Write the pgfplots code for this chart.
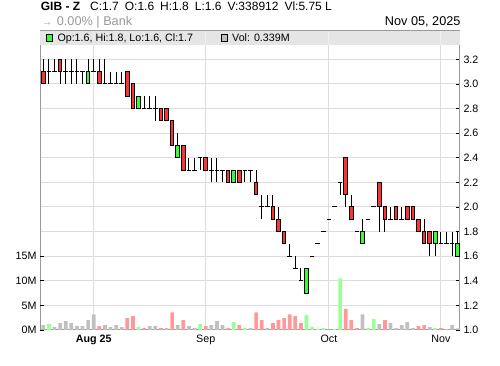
\documentclass[border=0pt]{standalone}
\usepackage{fontspec}
\setmainfont{Liberation Sans}
\usepackage{pgfplots}
\usepackage{pgfplotstable}
\pgfplotsset{compat=1.18}
\definecolor{cred}{HTML}{FF3333}
\definecolor{cgreen}{HTML}{33FF33}
\definecolor{vred}{HTML}{FF9999}
\definecolor{vgreen}{HTML}{99FF99}
\definecolor{vgray}{HTML}{C0C0C0}
\definecolor{gridc}{HTML}{DCDCDC}
\definecolor{bandc}{HTML}{E5E5E5}
\definecolor{bandl}{HTML}{F0F0F0}
\definecolor{framec}{HTML}{999999}
\definecolor{subc}{HTML}{999999}
\pgfplotsset{
  base/.style={at={(40bp,36bp)}, anchor=south west, scale only axis,
    width=420bp, height=299bp, xmin=-0.59, xmax=74.41},
  ebar/.style 2 args={draw=none, mark=none, no markers,
    error bars/y dir=plus, error bars/y explicit,
    error bars/error mark=none,
    error bars/error bar style={draw=#1, line width=#2, solid, line cap=butt}},
}
% daily candles: index, open, high, low, close
\pgfplotstableread{
i O H L C
0 3.1 3.2 3.0 3.0
1 3.1 3.2 3.0 3.1
2 3.1 3.2 3.1 3.1
3 3.2 3.2 3.0 3.1
4 3.1 3.2 3.0 3.1
5 3.1 3.2 3.0 3.1
6 3.1 3.2 3.0 3.1
7 3.1 3.1 3.0 3.1
8 3.0 3.2 3.0 3.1
9 3.1 3.2 3.1 3.1
10 3.1 3.2 3.0 3.0
11 3.0 3.2 3.0 3.0
12 3.0 3.1 3.0 3.0
13 3.0 3.1 3.0 3.0
14 3.0 3.1 3.0 3.0
15 3.1 3.1 2.9 2.9
16 3.0 3.0 2.8 2.8
17 2.8 2.9 2.8 2.9
18 2.8 2.9 2.8 2.8
19 2.8 2.9 2.8 2.8
20 2.8 2.9 2.7 2.8
21 2.8 2.8 2.7 2.7
22 2.8 2.8 2.7 2.7
23 2.7 2.7 2.5 2.5
24 2.4 2.6 2.4 2.5
25 2.5 2.5 2.3 2.3
26 2.3 2.4 2.3 2.3
27 2.3 2.4 2.3 2.3
28 2.4 2.4 2.3 2.4
29 2.4 2.4 2.3 2.3
30 2.3 2.4 2.2 2.3
31 2.3 2.4 2.2 2.3
32 2.3 2.3 2.2 2.3
33 2.3 2.3 2.2 2.2
34 2.2 2.3 2.2 2.3
35 2.3 2.3 2.2 2.2
36 2.3 2.3 2.2 2.3
37 2.3 2.3 2.2 2.3
38 2.2 2.3 2.1 2.1
39 2.0 2.1 1.9 2.0
40 2.0 2.1 2.0 2.0
41 2.0 2.1 1.9 1.9
42 1.9 2.0 1.8 1.8
43 1.8 1.8 1.7 1.7
44 1.6 1.7 1.6 1.6
45 1.5 1.6 1.5 1.5
46 1.4 1.5 1.4 1.4
47 1.3 1.5 1.3 1.5
48 1.6 1.6 1.6 1.6
49 1.7 1.7 1.7 1.7
50 1.8 1.8 1.8 1.8
51 1.9 1.9 1.9 1.9
52 2.0 2.0 2.0 2.0
53 2.2 2.2 2.1 2.2
54 2.4 2.4 2.0 2.1
55 2.0 2.1 1.9 1.9
56 1.8 1.8 1.8 1.8
57 1.7 1.9 1.7 1.8
58 1.9 1.9 1.9 1.9
59 2.0 2.0 2.0 2.0
60 2.2 2.2 1.8 2.0
61 2.0 2.0 1.8 1.9
62 1.9 2.0 1.9 1.9
63 2.0 2.0 1.9 1.9
64 1.9 2.0 1.9 1.9
65 2.0 2.0 1.9 1.9
66 2.0 2.0 1.9 1.9
67 1.9 1.9 1.8 1.8
68 1.8 1.9 1.7 1.7
69 1.8 1.8 1.6 1.7
70 1.7 1.8 1.6 1.8
71 1.7 1.8 1.7 1.7
72 1.7 1.8 1.7 1.7
73 1.7 1.8 1.6 1.7
74 1.6 1.8 1.6 1.7
}\ohlc
\begin{document}
\begin{tikzpicture}
\path[use as bounding box] (0,0) rectangle (500bp,366bp);
% background price axis: grid, frame, right ticks, month labels
\begin{axis}[base, ymin=1, ymax=3.4309,
  axis line style={framec, line width=1bp},
  ymajorgrids, xmajorgrids, major grid style={gridc, line width=1bp},
  ytick={1,1.2,1.4,1.6,1.8,2,2.2,2.4,2.6,2.8,3,3.2},
  yticklabels={1.0,1.2,1.4,1.6,1.8,2.0,2.2,2.4,2.6,2.8,3.0,3.2},
  ytick pos=right, yticklabel pos=right, tick align=inside,
  major tick length=4bp, ytick style={black, line width=0.8bp},
  xtick={9,29,51,71}, xticklabels={{\bfseries Aug 25},Sep,Oct,Nov},
  xtick style={draw=none},
  tick label style={font=\fontsize{10.7bp}{12bp}\selectfont},
  x tick label style={yshift=-1.5bp},
]
\addplot[draw=none] coordinates {(0,1)};
\end{axis}
% volume axis (millions)
\begin{axis}[base, ymin=0, ymax=60.77,
  axis line style={draw=none}, xtick=\empty,
  ytick={0,5,10,15}, yticklabels={0M,5M,10M,15M},
  ytick pos=left, tick align=inside, major tick length=4bp,
  ytick style={black, line width=0.8bp},
  tick label style={font=\fontsize{10.7bp}{12bp}\selectfont},
  ybar, bar width=3.7bp,
]
\addplot[ybar, bar shift=0pt, fill=vgray, draw=none] coordinates {
(0,1.0)(2,0.6)(3,1.4)(4,1.8)(5,1.4)(6,0.8)(7,0.8)(8,2.0)(9,3.2)(11,1.0)(12,0.6)(13,1.0)(14,0.6)(19,0.8)(20,0.8)(22,0.4)(24,1.0)(26,0.8)(27,0.4)(30,1.0)(31,1.8)(32,1.0)(37,0.4)(40,0.4)(57,3.2)(60,1.2)(62,1.4)(63,0.4)(64,1.0)(65,1.6)(66,0.4)(69,0.6)(72,0.2)(73,1.0)(74,0.339)};
\addplot[ybar, bar shift=0pt, fill=vgreen, draw=none] coordinates {
(1,1.2)(17,0.6)(28,1.2)(34,1.6)(36,0.4)(47,3.0)(48,0.6)(49,0.2)(50,0.4)(51,0.1)(52,0.2)(53,10.5)(58,0.4)(59,2.2)(70,0.4)};
\addplot[ybar, bar shift=0pt, fill=vred, draw=none] coordinates {
(10,0.8)(15,2.4)(16,2.8)(18,0.4)(21,0.4)(23,3.6)(25,2.0)(29,0.8)(33,0.4)(35,1.0)(38,3.6)(39,2.0)(41,1.4)(42,2.0)(43,2.4)(44,3.2)(45,2.8)(46,1.4)(54,4.3)(55,2.0)(56,0.4)(61,2.0)(67,0.8)(68,1.0)(71,0.4)};
\end{axis}
% candles
\begin{axis}[base, ymin=1, ymax=3.4309, hide axis]
% wicks: low to high
\addplot[ebar={black}{1bp}]
  table[x=i, y=L, y error expr=\thisrow{H}-\thisrow{L}] {\ohlc};
% box outline (sides)
\addplot[ebar={black}{4.64bp}]
  table[x=i, y expr={min(\thisrow{O},\thisrow{C})}, y error expr={abs(\thisrow{C}-\thisrow{O})}] {\ohlc};
% falling boxes
\addplot[ebar={cred}{2.64bp}]
  table[x=i, y expr={min(\thisrow{O},\thisrow{C})}, y error expr={(\thisrow{O}>\thisrow{C})*(\thisrow{O}-\thisrow{C})}] {\ohlc};
% rising boxes
\addplot[ebar={cgreen}{2.64bp}]
  table[x=i, y expr={min(\thisrow{O},\thisrow{C})}, y error expr={(\thisrow{C}>\thisrow{O})*(\thisrow{C}-\thisrow{O})}] {\ohlc};
% open and close edges
\addplot[only marks, mark=-, mark size=2.32bp, mark options={draw=black, line width=1bp, solid}]
  table[x=i, y=O] {\ohlc};
\addplot[only marks, mark=-, mark size=2.32bp, mark options={draw=black, line width=1bp, solid}]
  table[x=i, y=C] {\ohlc};
\end{axis}
% legend band
\fill[bandc] (40bp,321bp) rectangle (460bp,335bp);
\foreach \xx in {93.7,205.7,328.9,440.9} \draw[bandl, line width=1bp] (\xx bp,321bp) -- (\xx bp,334.5bp);
\draw[framec, line width=1bp] (40bp,335bp) -- (460bp,335bp);
\draw[black, line width=0.7bp, fill=cgreen] (45.9bp,325bp) rectangle (52.2bp,331.5bp);
\node[anchor=base west, inner sep=0, font=\fontsize{10.7bp}{12bp}\selectfont] at (57.3bp,324.7bp) {Op:1.6, Hi:1.8, Lo:1.6, Cl:1.7};
\draw[black, line width=0.7bp, fill=vgray] (220.9bp,325bp) rectangle (227.2bp,331.5bp);
\node[anchor=base west, inner sep=0, font=\fontsize{10.7bp}{12bp}\selectfont] at (232bp,324.7bp) {Vol: 0.339M};
% header
\node[anchor=base west, inner sep=0, font=\fontsize{12bp}{14bp}\selectfont\bfseries] at (40.7bp,355.3bp) {GIB - Z};
\node[anchor=base west, inner sep=0, font=\fontsize{12bp}{14bp}\selectfont] at (90bp,355.3bp) {C:1.7\hspace{6bp}O:1.6\hspace{6bp}H:1.8\hspace{6bp}L:1.6\hspace{6bp}V:338912\hspace{6bp}Vl:5.75 L};
\node[anchor=base west, inner sep=0, text=subc, font=\fontsize{10bp}{12bp}\selectfont] at (42bp,340.5bp) {→};
\node[anchor=base west, inner sep=0, text=subc, font=\fontsize{12.7bp}{14bp}\selectfont] at (56.7bp,340bp) {0.00\% | Bank};
\node[anchor=base east, inner sep=0, font=\fontsize{12.7bp}{14bp}\selectfont] at (460.7bp,340bp) {Nov 05, 2025};
\end{tikzpicture}
\end{document}
